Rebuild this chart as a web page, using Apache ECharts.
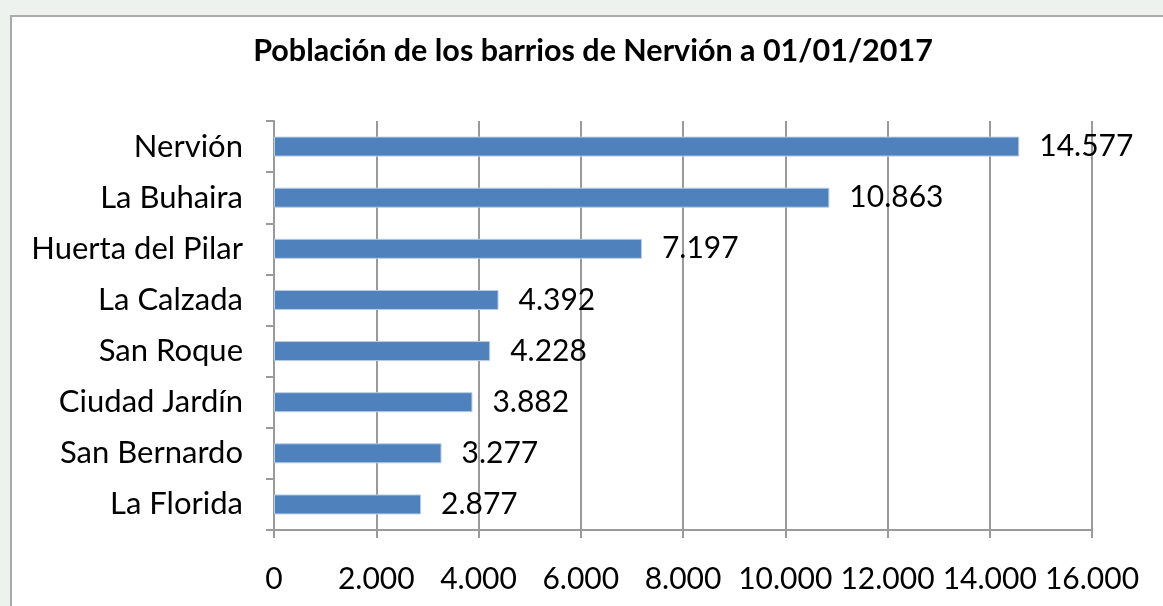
<!DOCTYPE html>
<html>
<head>
<meta charset="utf-8">
<script src="https://cdn.jsdelivr.net/npm/echarts@6/dist/echarts.min.js"></script>
<style>
  html, body { margin: 0; padding: 0; }
  body { width: 1163px; height: 606px; background: #eef2ee; position: relative; overflow: hidden; }
  .box { position: absolute; left: 10px; top: 15px; width: 1170px; height: 610px;
         background: #fff; border: 2px solid #a9aaa9; box-sizing: border-box; }
  #chart { position: absolute; left: 0; top: 0; width: 1163px; height: 606px; }
</style>
</head>
<body>
<div class="box"></div>
<div id="chart"></div>
<script>
// barrios y población
const barrios = ["Nervión", "La Buhaira", "Huerta del Pilar", "La Calzada",
                 "San Roque", "Ciudad Jardín", "San Bernardo", "La Florida"];
const poblacion = [14577, 10863, 7197, 4392, 4228, 3882, 3277, 2877];

// formato con punto de miles
function fmt(v) {
    return String(v).replace(/\B(?=(\d{3})+(?!\d))/g, ".");
}

const FONT = "Lato";
const myChart = echarts.init(document.getElementById("chart"));
const option = {
    title: {
        text: "Población de los barrios de Nervión a 01/01/2017",
        left: 588,
        textAlign: "center",
        top: 31,
        textStyle: { fontFamily: FONT, fontSize: 30.5, fontWeight: "bold", color: "#000" }
    },
    grid: { left: 274, right: 71, top: 121, bottom: 76 },
    xAxis: {
        type: "value",
        min: 0,
        max: 16000,
        interval: 2000,
        axisLine: { show: true, lineStyle: { color: "#9a9a9a", width: 2 } },
        axisTick: { show: true, length: 8, lineStyle: { color: "#9a9a9a", width: 2 } },
        splitLine: { show: true, lineStyle: { color: "#9a9a9a", width: 2 } },
        axisLabel: {
            fontFamily: FONT, fontSize: 30, color: "#000", margin: 34,
            formatter: fmt
        }
    },
    yAxis: {
        type: "category",
        inverse: true,
        data: barrios,
        axisLine: { show: true, lineStyle: { color: "#9a9a9a", width: 2 } },
        axisTick: { show: true, length: 8, lineStyle: { color: "#9a9a9a", width: 2 } },
        axisLabel: { fontFamily: FONT, fontSize: 31, color: "#000", margin: 31 }
    },
    series: [{
        type: "bar",
        data: poblacion,
        barWidth: 20,
        itemStyle: { color: "#4f81bd", borderColor: "#b9cde5", borderWidth: 1 },
        label: {
            show: true,
            position: "right",
            distance: 20,
            fontFamily: FONT,
            fontSize: 30,
            color: "#000",
            formatter: p => fmt(p.value)
        }
    }]
};
myChart.setOption(option);
</script>
</body>
</html>
